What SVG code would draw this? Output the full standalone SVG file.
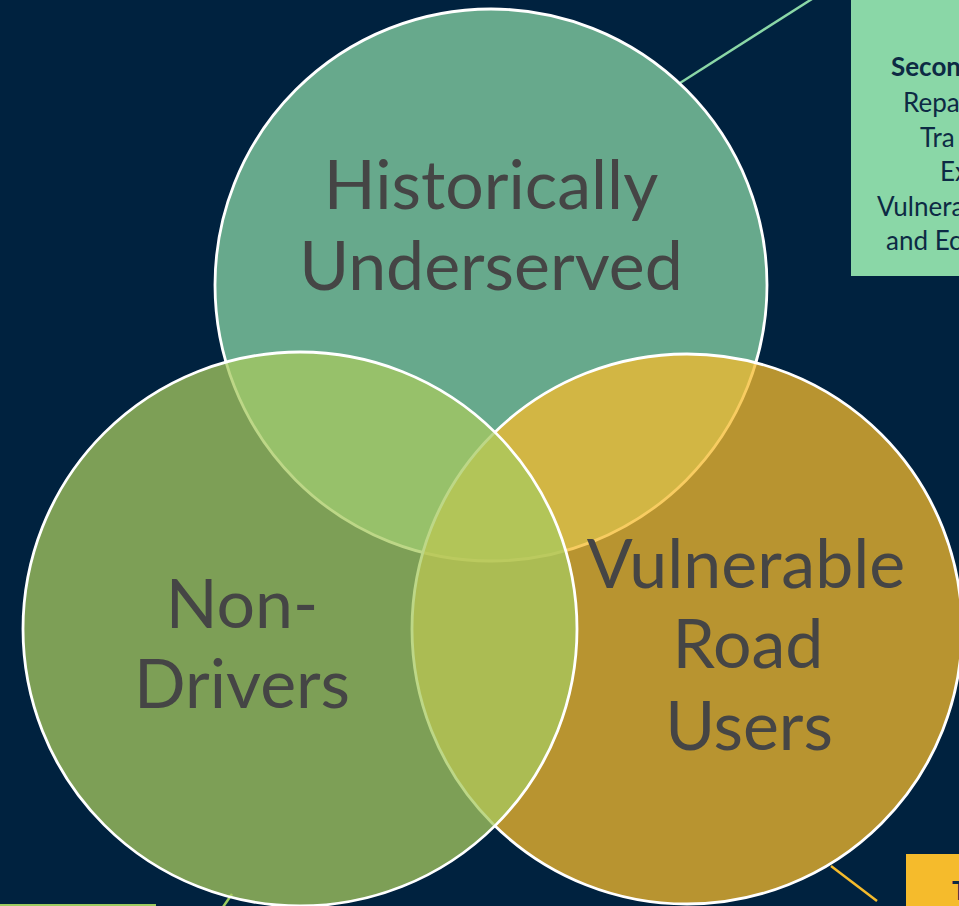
<svg xmlns="http://www.w3.org/2000/svg" width="959" height="906" viewBox="0 0 959 906">
<style>
.circ{stroke:#ffffff;stroke-width:2.8;fill-opacity:0.75}
.big{font-family:Lato,"Liberation Sans",sans-serif;font-size:68px;fill:#454545;text-anchor:middle}
.box{font-family:Lato,"Liberation Sans",sans-serif;font-size:26px;fill:#0d2a44}
.conn{fill:none;stroke-width:2.5}
</style>
<rect x="0" y="0" width="959" height="906" fill="#00223f"/>
<g id="connectors">
<line class="conn" x1="680" y1="83" x2="812" y2="-1" stroke="#8ad7a7"/>
<line class="conn" x1="831" y1="866" x2="877" y2="901" stroke="#f5bb2c"/>
<line class="conn" x1="232" y1="894" x2="223" y2="907" stroke="#9ccb5f"/>
</g>
<g id="box-top-right">
<rect x="851" y="0" width="110" height="276" fill="#8ad7a7"/>
<text class="box" x="891" y="76" font-weight="bold">Secon</text>
<text class="box" x="903" y="112">Repa</text>
<text class="box" x="920" y="147">Tra</text>
<text class="box" x="940" y="181">Ex</text>
<text class="box" x="877" y="216">Vulnera</text>
<text class="box" x="886" y="250">and Ec</text>
</g>
<g id="box-bottom-right">
<rect x="906" y="854" width="55" height="54" fill="#f5bb2c"/>
<text class="box" x="952" y="900" font-weight="bold">T</text>
</g>
<g id="box-bottom-left">
<rect x="0" y="904" width="156" height="4" fill="#9ccb5f"/>
</g>
<g id="historically-underserved">
<circle class="circ" cx="491" cy="285" r="276" fill="#8ad7a7"/>
</g>
<g id="vulnerable-road-users">
<circle class="circ" cx="687" cy="629" r="275" fill="#f5bb2c"/>
</g>
<g id="non-drivers">
<circle class="circ" cx="300" cy="629" r="277" fill="#a7ca5f"/>
</g>
<g id="labels">
<text class="big" x="491" y="209">Historically</text>
<text class="big" x="491" y="290">Underserved</text>
<text class="big" x="242" y="628">Non-</text>
<text class="big" x="242" y="708">Drivers</text>
<text class="big" x="746" y="588">Vulnerable</text>
<text class="big" x="748" y="668">Road</text>
<text class="big" x="749" y="750">Users</text>
</g>
</svg>
